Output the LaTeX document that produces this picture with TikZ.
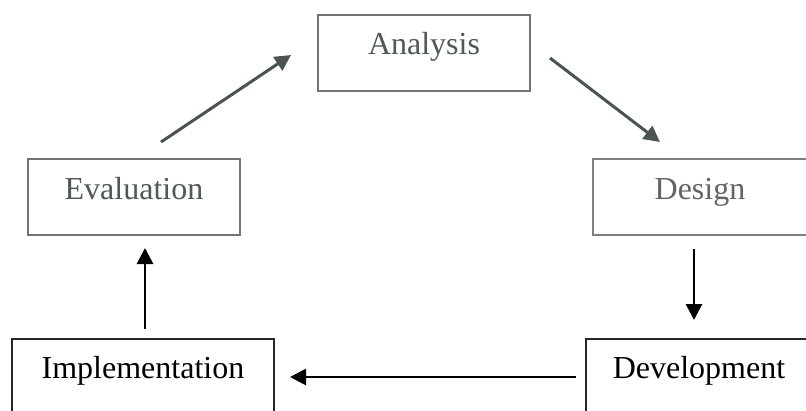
\documentclass[tikz,border=0pt]{standalone}
\usepackage{fontspec}
\setmainfont{Liberation Serif}
\usetikzlibrary{arrows.meta}
\definecolor{uptext}{HTML}{4F5A54}
\definecolor{upline}{HTML}{6F7672}
\definecolor{uparrow}{HTML}{4B5550}
\definecolor{dtext}{HTML}{636363}
\definecolor{dline}{HTML}{7F7F7F}
\tikzset{
 box/.style={draw, rectangle, inner xsep=0pt, inner ysep=0pt, line width=1.5pt,
   font=\fontsize{32}{38}\selectfont, anchor=base, text height=40pt, text depth=36pt},
 arr/.style={-{Triangle[length=16pt,width=16pt]}, line width=2.8pt},
}
\begin{document}
\begin{tikzpicture}[x=1pt,y=-1pt]
\clip (0,0) rectangle (806,410);
\fill[white] (0,0) rectangle (806,410);
\node[box, draw=upline, text=uptext, minimum width=212pt, text height=39.5pt, text depth=36.5pt] (analysis) at (424,54.5) {Analysis};
\node[box, draw=upline, text=uptext, minimum width=212pt] (evaluation) at (134,199) {Evaluation};
\node[box, draw=dline, text=dtext, minimum width=214pt] (design) at (700,199) {Design};
\node[box, draw=black!85, text=black, minimum width=262pt, text height=39pt, text depth=80pt] (implementation) at (143,378) {Implementation};
\node[box, draw=black!85, text=black, minimum width=226pt, text height=39pt, text depth=80pt] (development) at (699,378) {Development};
\coordinate (e1) at (161,142);
\coordinate (a1) at (291,55);
\coordinate (a2) at (550,58);
\coordinate (d1) at (660,142);
\coordinate (d2) at (694,249);
\coordinate (v1) at (694,320);
\coordinate (v2) at (576,377);
\coordinate (i1) at (290,377);
\coordinate (i2) at (145,329);
\coordinate (e2) at (145,248);
\draw[arr, draw=uparrow, line width=3pt] (e1) -- (a1);
\draw[arr, draw=uparrow, line width=3pt] (a2) -- (d1);
\draw[arr, black] (d2) -- (v1);
\draw[arr, black] (v2) -- (i1);
\draw[arr, black] (i2) -- (e2);
\end{tikzpicture}
\end{document}
